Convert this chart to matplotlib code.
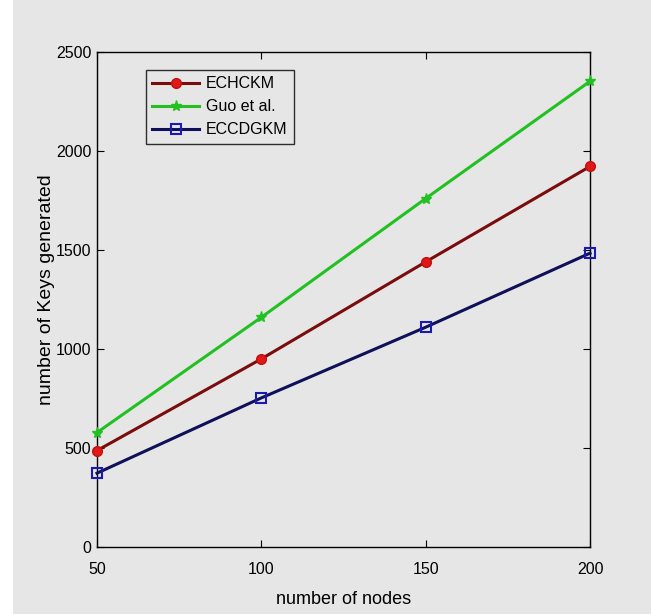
import matplotlib
matplotlib.use("Agg")
import matplotlib.pyplot as plt
from matplotlib.patches import Rectangle

nodes = [50, 100, 150, 200]
echckm = [487, 950, 1440, 1922]
guo = [578, 1160, 1760, 2352]
eccdgkm = [373, 753, 1110, 1484]
yticks = [0, 500, 1000, 1500, 2000, 2500]
xticks = [50, 100, 150, 200]

bg = "#e6e6e6"
plt.rcParams['font.family'] = ['Liberation Sans', 'DejaVu Sans']

fig = plt.figure(figsize=(6.51, 6.14), dpi=100, facecolor=bg)
fig.patches.append(Rectangle((0, 0), 13/651, 1, transform=fig.transFigure,
                             facecolor="white", edgecolor="none", zorder=-1))
ax = fig.add_axes([97/651, 1 - 547/614, (590 - 97)/651, (547 - 52)/614])
ax.set_facecolor(bg)

ax.plot(nodes, echckm, color="#7a0c0c", lw=2.2, marker="o", ms=7,
        mfc="#e01818", mec="#c01010", label="ECHCKM", clip_on=False, zorder=3)
ax.plot(nodes, guo, color="#22c022", lw=2.2, marker="*", ms=8,
        mfc="#22c022", mec="#22c022", label="Guo et al.", clip_on=False, zorder=3)
ax.plot(nodes, eccdgkm, color="#10105a", lw=2.2, marker="s", ms=7,
        mfc="none", mec="#1a1ab0", mew=1.5, label="ECCDGKM", clip_on=False, zorder=3)

ax.set_xlim(50, 200)
ax.set_ylim(0, 2500)
ax.set_xticks(xticks)
ax.set_yticks(yticks)
ax.tick_params(direction="in", top=True, right=True, labelsize=11.5, length=5)
ax.tick_params(axis="x", pad=11)
ax.tick_params(axis="y", pad=4)
for s in ax.spines.values():
    s.set_linewidth(1.0)
    s.set_color("black")

ax.set_xlabel("number of nodes", fontsize=13, labelpad=10)
ax.set_ylabel("number of Keys generated", fontsize=14, labelpad=2)
ax.yaxis.set_label_coords(-0.085, 0.52)

leg = ax.legend(loc="upper left", bbox_to_anchor=((146 - 97)/493, 1 - (70 - 52)/495),
                frameon=True, fancybox=False, fontsize=11.5, handlelength=2.9,
                borderpad=0.4, labelspacing=0.5, handletextpad=0.45, borderaxespad=0)
leg.get_frame().set_edgecolor("black")
leg.get_frame().set_facecolor(bg)
leg.get_frame().set_linewidth(1.0)

fig.savefig("out.png", dpi=100, facecolor=bg)
